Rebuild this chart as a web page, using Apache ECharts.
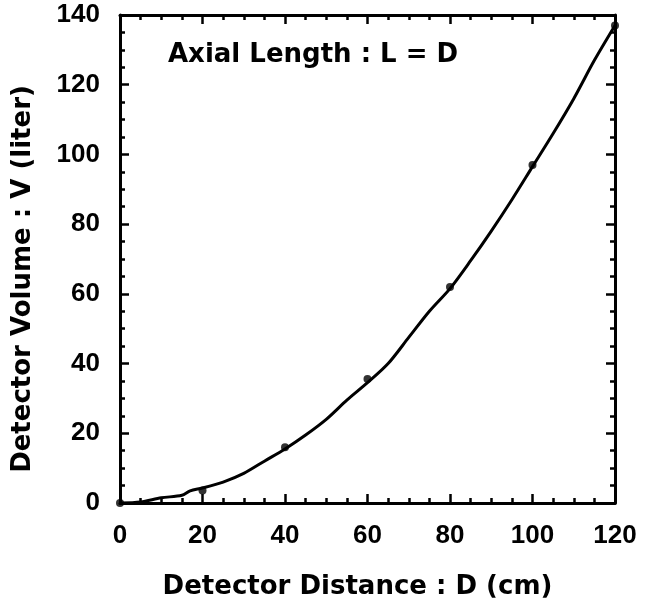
<!DOCTYPE html>
<html>
<head>
<meta charset="utf-8">
<script src="https://cdn.jsdelivr.net/npm/echarts@6/dist/echarts.min.js"></script>
<style>
  html, body { margin: 0; padding: 0; background: #fff; }
  #chart { width: 649px; height: 605px; }
</style>
</head>
<body>
<div id="chart"></div>
<script>
// fitted curve
const curveD = [0, 5, 10, 15, 17, 20, 25, 30, 35, 40, 45, 50, 55, 60, 65, 70, 75, 80, 85, 90, 95, 100, 105, 110, 115, 120];
const curveV = [0, 0.3, 1.5, 2.2, 3.5, 4.3, 6, 8.5, 12, 15.5, 19.5, 24, 29.5, 34.5, 40, 47.5, 55, 61.5, 69.5, 78, 87, 96.5, 106, 116, 127, 137];

// measured points
const pointD = [0, 20, 40, 60, 80, 100, 120];
const pointV = [0, 3.6, 16, 35.6, 62, 97, 137];

const title = 'Axial Length : L = D';
const xName = 'Detector Distance : D (cm)';
const yName = 'Detector Volume : V (liter)';

const font = 'Liberation Sans, Arial, sans-serif';
const wideFont = 'DejaVu Sans, sans-serif';
const chart = echarts.init(document.getElementById('chart'));

const frameAxis = {
  axisLine: { show: true, onZero: false, lineStyle: { color: '#000', width: 3 } },
  axisTick: { show: true, inside: true, length: 9, lineStyle: { color: '#000', width: 2.5 } },
  minorTick: { show: true, splitNumber: 4, length: 5, lineStyle: { color: '#000', width: 2.5 } },
  splitLine: { show: false },
};

const option = {
  animation: false,
  backgroundColor: '#fff',
  title: {
    text: title,
    left: 163,
    top: 37,
    textStyle: { fontFamily: wideFont, fontWeight: 'bold', fontSize: 26, color: '#000' },
  },
  grid: { left: 120, right: 34, top: 15, bottom: 100 },
  xAxis: [
    {
      ...frameAxis,
      type: 'value', min: 0, max: 120, interval: 20,
      position: 'bottom',
      name: xName, nameLocation: 'middle', nameGap: 71,
      nameTextStyle: { fontFamily: wideFont, fontWeight: 'bold', fontSize: 26, color: '#000', padding: [0, 20, 0, 0] },
      axisLabel: { margin: 20, fontFamily: font, fontWeight: 'bold', fontSize: 26, color: '#000' },
    },
    {
      ...frameAxis,
      type: 'value', min: 0, max: 120, interval: 20,
      position: 'top',
      axisLabel: { show: false },
    },
  ],
  yAxis: [
    {
      ...frameAxis,
      type: 'value', min: 0, max: 140, interval: 20,
      position: 'left',
      name: yName, nameLocation: 'middle', nameGap: 84,
      nameTextStyle: { fontFamily: wideFont, fontWeight: 'bold', fontSize: 26, color: '#000', padding: [0, 40, 0, 0] },
      axisLabel: { margin: 20, fontFamily: font, fontWeight: 'bold', fontSize: 26, color: '#000' },
    },
    {
      ...frameAxis,
      type: 'value', min: 0, max: 140, interval: 20,
      position: 'right',
      axisLabel: { show: false },
    },
  ],
  series: [
    {
      type: 'line',
      data: curveD.map((d, i) => [d, curveV[i]]),
      smooth: 0.3,
      showSymbol: false,
      lineStyle: { color: '#000', width: 3 },
    },
    {
      type: 'scatter',
      data: pointD.map((d, i) => [d, pointV[i]]),
      symbol: 'circle',
      symbolSize: 8,
      itemStyle: { color: '#000' },
    },
  ],
};

chart.setOption(option);
</script>
</body>
</html>
